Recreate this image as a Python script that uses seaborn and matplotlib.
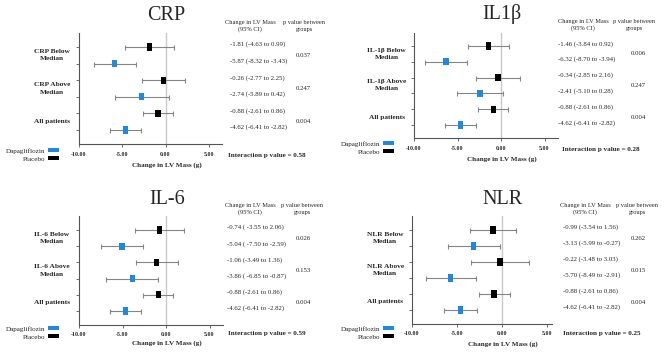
import matplotlib
matplotlib.use("Agg")
import matplotlib.pyplot as plt
import matplotlib.transforms as mtransforms
from matplotlib.patches import Patch
import seaborn as sns
import pandas as pd

# ---------------- data ----------------
groups = ["Placebo", "Dapagliflozin", "Placebo", "Dapagliflozin", "Placebo", "Dapagliflozin"]

crp_est = [-1.81, -5.87, -0.26, -2.74, -0.88, -4.62]
crp_lo = [-4.63, -8.32, -2.77, -5.89, -2.61, -6.41]
crp_hi = [0.99, -3.43, 2.25, 0.42, 0.86, -2.82]
crp_txt = ["-1.81 (-4.63 to 0.99)", "-5.87 (-8.32 to -3.43)", "-0.26 (-2.77 to 2.25)",
           "-2.74 (-5.89 to 0.42)", "-0.88 (-2.61 to 0.86)", "-4.62 (-6.41 to -2.82)"]
crp_p = ["0.037", "0.247", "0.004"]
crp_labels = ["CRP Below\nMedian", "CRP Above\nMedian", "All patients"]
crp_inter = "0.58"

il1_est = [-1.46, -6.32, -0.34, -2.41, -0.88, -4.62]
il1_lo = [-3.84, -8.70, -2.85, -5.10, -2.61, -6.41]
il1_hi = [0.92, -3.94, 2.16, 0.28, 0.86, -2.82]
il1_txt = ["-1.46 (-3.84 to 0.92)", "-6.32 (-8.70 to -3.94)", "-0.34 (-2.85 to 2.16)",
           "-2.41 (-5.10 to 0.28)", "-0.88 (-2.61 to 0.86)", "-4.62 (-6.41 to -2.82)"]
il1_p = ["0.006", "0.247", "0.004"]
il1_labels = ["IL-1β Below\nMedian", "IL-1β Above\nMedian", "All patients"]
il1_inter = "0.28"

il6_est = [-0.74, -5.04, -1.06, -3.86, -0.88, -4.62]
il6_lo = [-3.55, -7.50, -3.49, -6.85, -2.61, -6.41]
il6_hi = [2.06, -2.59, 1.36, -0.87, 0.86, -2.82]
il6_txt = ["-0.74 ( -3.55 to 2.06)", "-5.04 ( -7.50 to -2.59)", "-1.06 (-3.49 to 1.36)",
           "-3.86 ( -6.85 to -0.87)", "-0.88 (-2.61 to 0.86)", "-4.62 (-6.41 to -2.82)"]
il6_p = ["0.026", "0.153", "0.004"]
il6_labels = ["IL-6 Below\nMedian", "IL-6 Above\nMedian", "All patients"]
il6_inter = "0.59"

nlr_est = [-0.99, -3.13, -0.22, -5.70, -0.88, -4.62]
nlr_lo = [-3.54, -5.99, -3.48, -8.49, -2.61, -6.41]
nlr_hi = [1.56, -0.27, 3.03, -2.91, 0.86, -2.82]
nlr_txt = ["-0.99 (-3.54 to 1.56)", "-3.13 (-5.99 to -0.27)", "-0.22 (-3.48 to 3.03)",
           "-5.70 (-8.49 to -2.91)", "-0.88 (-2.61 to 0.86)", "-4.62 (-6.41 to -2.82)"]
nlr_p = ["0.262", "0.015", "0.004"]
nlr_labels = ["NLR Below\nMedian", "NLR Above\nMedian", "All patients"]
nlr_inter = "0.25"

titles = ["CRP", "IL1β", "IL-6", "NLR"]
xticks = [-10, -5, 0, 5]
xticklabels = ["-10.00", "-5.00", "0.00", "5.00"]

# ---------------- style ----------------
sns.set_style("white")
SERIF = ["Liberation Serif", "DejaVu Serif"]
plt.rcParams["font.family"] = SERIF

W, H = 669, 356
fig = plt.figure(figsize=(W / 100, H / 100), dpi=100)

palette = {"Dapagliflozin": "#1f88e0", "Placebo": "#000000"}
ERR = "#858585"
RECT = [(-0.75, -1), (0.75, -1), (0.75, 1), (-0.75, 1), (-0.75, -1)]

def fx(px):
    return px / W

def fy(py):
    return 1 - py / H

panels = [
    dict(data=(crp_est, crp_lo, crp_hi, crp_txt, crp_p, crp_labels, crp_inter),
         x0=79, unit=8.65, xmax=6.5, row0=47, row5=130,
         val_x=230, h1=250, h2=304, p_x=303, inter=(228, 155), title_y=15.5, xlab_y=165,
         leg=(59, 148)),
    dict(data=(il1_est, il1_lo, il1_hi, il1_txt, il1_p, il1_labels, il1_inter),
         x0=414, unit=8.7, xmax=6.5, row0=46, row5=125,
         val_x=558, h1=583, h2=634, p_x=638, inter=(562, 149), title_y=13.5, xlab_y=159,
         leg=(394, 141)),
    dict(data=(il6_est, il6_lo, il6_hi, il6_txt, il6_p, il6_labels, il6_inter),
         x0=79, unit=8.7, xmax=6.5, row0=230, row5=311,
         val_x=227, h1=250, h2=302, p_x=303, inter=(228, 334), title_y=199.5, xlab_y=343,
         leg=(59, 326)),
    dict(data=(nlr_est, nlr_lo, nlr_hi, nlr_txt, nlr_p, nlr_labels, nlr_inter),
         x0=412, unit=9.0, xmax=5.6, row0=230, row5=310,
         val_x=563, h1=585, h2=637, p_x=638, inter=(563, 334), title_y=199.5, xlab_y=344,
         leg=(394, 326)),
]

for title, P in zip(titles, panels):
    est, lo, hi, txt, pv, labels, inter = P["data"]
    step = (P["row5"] - P["row0"]) / 5
    top = P["row0"] - 0.85 * step
    bot = P["row5"] + 0.85 * step
    x0 = P["x0"]
    x1 = x0 + P["unit"] * (P["xmax"] + 10)
    ax = fig.add_axes([fx(x0), fy(bot), fx(x1 - x0), (bot - top) / H])
    ax.set_xlim(-10, P["xmax"])
    ax.set_ylim(5.85, -0.85)

    df = pd.DataFrame({"est": est, "lo": lo, "hi": hi, "row": list(range(6)), "group": groups})

    ax.axvline(0, color="#c8c8c8", lw=1.0, zorder=0)
    ax.errorbar(df["est"], df["row"],
                xerr=[df["est"] - df["lo"], df["hi"] - df["est"]],
                fmt="none", ecolor=ERR, elinewidth=0.8, capsize=1.8, capthick=0.8, zorder=1)
    sns.scatterplot(data=df, x="est", y="row", hue="group", palette=palette,
                    marker=RECT, s=26, linewidth=0, legend=False, ax=ax, zorder=3)

    sns.despine(ax=ax)
    for sp in ("left", "bottom"):
        ax.spines[sp].set_color("#555555")
        ax.spines[sp].set_linewidth(0.8)
    ax.set_yticks(range(6))
    ax.set_yticklabels([])
    ax.tick_params(axis="y", length=2.5, width=0.6, color="#555555", left=True)
    ax.set_xticks(xticks)
    ax.set_xticklabels(xticklabels, fontsize=4.3, fontweight="bold")
    ax.tick_params(axis="x", length=2.5, width=0.6, color="#555555", pad=3, bottom=True)
    ax.set_xlabel("")
    ax.set_ylabel("")

    for i, lab in enumerate(labels):
        ax.text(-0.19, 2 * i + 0.5, lab, transform=ax.get_yaxis_transform(),
                ha="center", va="center", fontsize=5.3, fontweight="bold", linespacing=1.5)

    zero_px = x0 + 10 * P["unit"]
    fig.text(fx(zero_px + 1), fy(P["title_y"]), title, ha="center", va="center", fontsize=14.5)
    fig.text(fx(zero_px + 1), fy(P["xlab_y"]), "Change in LV Mass (g)", ha="center", va="center",
             fontsize=5.1, fontweight="bold")

    bt = mtransforms.blended_transform_factory(fig.transFigure, ax.transData)
    for i, t in enumerate(txt):
        ax.text(fx(P["val_x"]), i - 0.15, t, transform=bt, ha="left", va="center",
                fontsize=4.9, clip_on=False)
    for j, p in enumerate(pv):
        ax.text(fx(P["p_x"]), 2 * j + 0.5, p, transform=bt, ha="center", va="center",
                fontsize=4.9, clip_on=False)
    fig.text(fx(P["h1"]), fy(P["row0"] - 21), "Change in LV Mass\n(95% CI)", ha="center",
             va="center", fontsize=4.6, linespacing=1.4)
    fig.text(fx(P["h2"]), fy(P["row0"] - 21), "p value between\ngroups", ha="center",
             va="center", fontsize=4.6, linespacing=1.4)
    fig.text(fx(P["inter"][0]), fy(P["inter"][1]), f"Interaction p value = {inter}",
             ha="left", va="center", fontsize=5.1, fontweight="bold")

    handles = [Patch(facecolor=palette["Dapagliflozin"], edgecolor="none", label="Dapagliflozin"),
               Patch(facecolor=palette["Placebo"], edgecolor="none", label="Placebo")]
    ax.legend(handles=handles, loc="upper right", bbox_to_anchor=(fx(P["leg"][0]), fy(P["leg"][1])),
              bbox_transform=fig.transFigure, markerfirst=False, frameon=False,
              fontsize=5.1, handlelength=1.6, handleheight=0.55, handletextpad=0.3,
              labelspacing=0.35, borderpad=0, borderaxespad=0)

fig.savefig("out.png", dpi=100)
